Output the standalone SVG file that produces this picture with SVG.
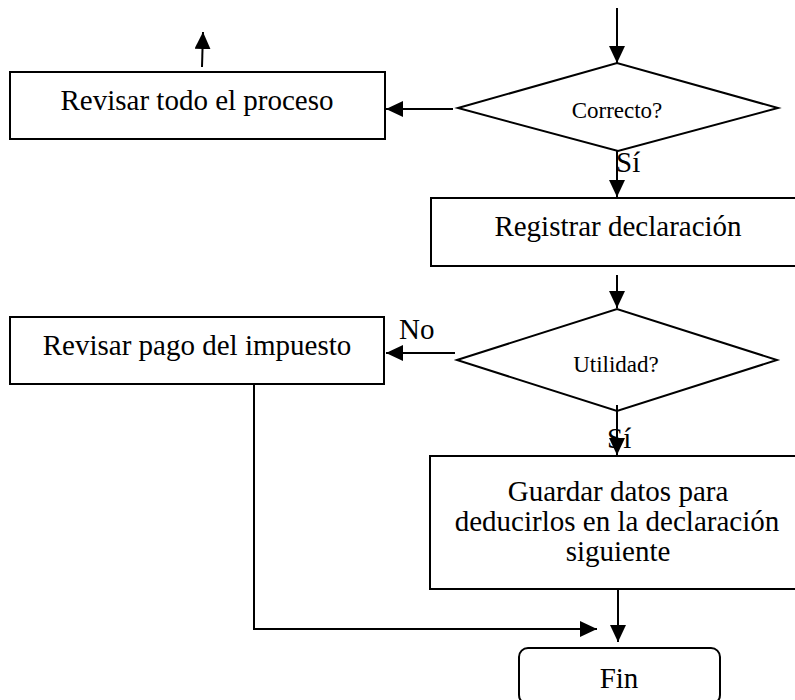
<svg xmlns="http://www.w3.org/2000/svg" width="795" height="700" viewBox="0 0 795 700">
<style>
.box{fill:#fff;stroke:#000;stroke-width:2}
.ln{fill:none;stroke:#000;stroke-width:2}
.t{font-family:"Liberation Serif","Times New Roman",serif;font-size:29px;fill:#000;text-anchor:middle}
.s{font-size:23px}
.l{font-family:"Liberation Serif","Times New Roman",serif;font-size:29px;fill:#000}
</style>
<defs>
<marker id="ah" markerWidth="17" markerHeight="16" refX="17" refY="8" orient="auto" markerUnits="userSpaceOnUse">
<path d="M0,0 L17,8 L0,16 Z" fill="#000"/>
</marker>
</defs>
<rect width="795" height="700" fill="#fff"/>
<g id="n_revisar_todo">
<rect class="box" x="10" y="72" width="375" height="67"/>
<text class="t" x="197" y="110">Revisar todo el proceso</text>
</g>
<g id="n_correcto">
<polygon class="box" points="458,108 617,63 778,108 618,151"/>
<text class="t s" x="617" y="118">Correcto?</text>
</g>
<g id="n_registrar">
<rect class="box" x="431" y="198" width="380" height="68"/>
<text class="t" x="618" y="236">Registrar declaración</text>
</g>
<g id="n_utilidad">
<polygon class="box" points="457,360 617,309 777,360 617,411"/>
<text class="t s" x="616" y="372">Utilidad?</text>
</g>
<g id="n_revisar_pago">
<rect class="box" x="10" y="317" width="374" height="67"/>
<text class="t" x="197" y="355">Revisar pago del impuesto</text>
</g>
<g id="n_guardar">
<rect class="box" x="430" y="456" width="380" height="133"/>
<text class="t" x="618" y="501">Guardar datos para</text>
<text class="t" x="617" y="531">deducirlos en la declaración</text>
<text class="t" x="618" y="561">siguiente</text>
</g>
<g id="n_fin">
<rect class="box" x="519" y="648" width="201" height="56" rx="9"/>
<text class="t" x="619" y="688">Fin</text>
</g>
<g id="connectors">
<line class="ln" x1="617" y1="8" x2="617" y2="63" marker-end="url(#ah)"/>
<line class="ln" x1="202" y1="67" x2="203" y2="32" marker-end="url(#ah)"/>
<line class="ln" x1="453" y1="109" x2="386" y2="109" marker-end="url(#ah)"/>
<line class="ln" x1="617" y1="150" x2="617" y2="197" marker-end="url(#ah)"/>
<line class="ln" x1="617" y1="275" x2="617" y2="308" marker-end="url(#ah)"/>
<line class="ln" x1="455" y1="353" x2="386" y2="353" marker-end="url(#ah)"/>
<line class="ln" x1="617" y1="405" x2="617" y2="455" marker-end="url(#ah)"/>
<line class="ln" x1="618" y1="589" x2="618" y2="642" marker-end="url(#ah)"/>
<polyline class="ln" points="254,384 254,629 597,629" marker-end="url(#ah)"/>
<text class="l" x="616" y="172">Sí</text>
<text class="l" x="399" y="339">No</text>
<text class="l" x="607" y="448">Sí</text>
</g>
</svg>
